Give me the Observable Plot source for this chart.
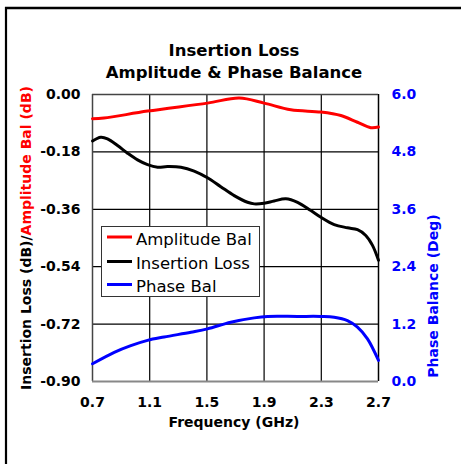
<!DOCTYPE html>
<html>
<head>
<meta charset="utf-8">
<script src="https://cdn.jsdelivr.net/npm/d3@7"></script>
<script src="https://cdn.jsdelivr.net/npm/@observablehq/plot@0.6"></script>
<style>
  html, body { margin: 0; padding: 0; background: #fff; }
  #chart { width: 461px; height: 464px; overflow: hidden; }
</style>
</head>
<body>
<div id="chart"></div>
<script>
// ---- data ----
const ampFreq = [0.70, 0.78, 1.085, 1.504, 1.726, 1.90, 2.087, 2.297, 2.437, 2.553, 2.646, 2.70];
const ampVal  = [-0.076, -0.074, -0.052, -0.027, -0.011, -0.027, -0.048, -0.055, -0.066, -0.087, -0.104, -0.102];

const ilFreq = [0.70, 0.758, 0.805, 0.875, 0.945, 1.015, 1.085, 1.155, 1.224, 1.318, 1.411, 1.504, 1.597, 1.691, 1.784, 1.831, 1.90, 1.970, 2.052, 2.134, 2.227, 2.297, 2.390, 2.483, 2.553, 2.611, 2.658, 2.70];
const ilVal  = [-0.146, -0.134, -0.139, -0.160, -0.184, -0.205, -0.220, -0.228, -0.226, -0.228, -0.240, -0.261, -0.289, -0.317, -0.338, -0.343, -0.341, -0.334, -0.327, -0.338, -0.364, -0.385, -0.408, -0.418, -0.424, -0.442, -0.473, -0.520];

const phFreq = [0.70, 0.852, 0.968, 1.085, 1.201, 1.388, 1.504, 1.667, 1.831, 1.924, 2.134, 2.297, 2.390, 2.483, 2.553, 2.623, 2.70];
const phVal  = [0.37, 0.61, 0.75, 0.86, 0.93, 1.03, 1.10, 1.24, 1.33, 1.36, 1.36, 1.36, 1.345, 1.275, 1.136, 0.892, 0.44];

const xTicks = [0.7, 1.1, 1.5, 1.9, 2.3, 2.7];
const yTicks = [0, -0.18, -0.36, -0.54, -0.72, -0.90];
const phaseTicks = [0.0, 1.2, 2.4, 3.6, 4.8, 6.0];

const seriesNames = ["Amplitude Bal", "Insertion Loss", "Phase Bal"];
const seriesColors = ["#ff0000", "#000000", "#0000ff"];

// phase (deg, right axis 0..6) mapped onto left dB axis (-0.9..0)
const degToDb = d => -0.9 + d * 0.15;
const dbToDeg = v => (v + 0.9) / 0.15;

const amp = ampFreq.map((f, i) => ({f, v: ampVal[i]}));
const il = ilFreq.map((f, i) => ({f, v: ilVal[i]}));
const ph = phFreq.map((f, i) => ({f, v: degToDb(phVal[i])}));

const FONT = "DejaVu Sans, Verdana, sans-serif";
const BLUE = "#0000ff";

const svg = Plot.plot({
  width: 461,
  height: 464,
  marginLeft: 92,
  marginRight: 83,
  marginTop: 94,
  marginBottom: 83,
  style: {background: "#fff", fontFamily: FONT, overflow: "visible"},
  x: {domain: [0.7, 2.7]},
  y: {domain: [-0.9, 0]},
  marks: [
    Plot.ruleX(xTicks.slice(1, -1), {stroke: "#000", strokeWidth: 1.2}),
    Plot.ruleY(yTicks.slice(1, -1), {stroke: "#000", strokeWidth: 1.2}),
    Plot.ruleX([xTicks[xTicks.length - 1]], {stroke: "#000", strokeWidth: 1.5}),
    Plot.ruleX([xTicks[0]], {stroke: "#444", strokeWidth: 1.5}),
    Plot.ruleY([yTicks[0]], {stroke: "#444", strokeWidth: 1.5}),
    Plot.ruleY([yTicks[yTicks.length - 1]], {stroke: "#888", strokeWidth: 2}),
    Plot.axisX(xTicks, {tickSize: 0, tickPadding: 16, tickFormat: d => d.toFixed(1), fontSize: 14, fontWeight: "bold", fill: "#000", label: null}),
    Plot.axisY(yTicks, {anchor: "left", tickSize: 0, tickPadding: 12, tickFormat: d => d.toFixed(2), fontSize: 14, fontWeight: "bold", fill: "#000", label: null}),
    Plot.axisY(phaseTicks.map(degToDb), {anchor: "right", tickSize: 0, tickPadding: 13, tickFormat: d => dbToDeg(d).toFixed(1), fontSize: 14, fontWeight: "bold", fill: BLUE, color: BLUE, label: null}),
    Plot.line(amp, {x: "f", y: "v", stroke: seriesColors[0], strokeWidth: 3, curve: "catmull-rom"}),
    Plot.line(il, {x: "f", y: "v", stroke: seriesColors[1], strokeWidth: 3, curve: "catmull-rom"}),
    Plot.line(ph, {x: "f", y: "v", stroke: seriesColors[2], strokeWidth: 3, curve: "catmull-rom"})
  ]
});

document.getElementById("chart").appendChild(svg);
const s = d3.select(svg);

// outer frame (left and top borders)
s.append("line").attr("x1", 6).attr("x2", 6).attr("y1", 7).attr("y2", 464).attr("stroke", "#000").attr("stroke-width", 2.2);
s.append("line").attr("x1", 5).attr("x2", 461).attr("y1", 8).attr("y2", 8).attr("stroke", "#000").attr("stroke-width", 2.5);

// title
s.append("text").attr("x", 234).attr("y", 56).attr("text-anchor", "middle")
  .attr("font-family", FONT).attr("font-size", 16.5).attr("font-weight", "bold").attr("fill", "#000")
  .text("Insertion Loss");
s.append("text").attr("x", 234).attr("y", 78).attr("text-anchor", "middle")
  .attr("font-family", FONT).attr("font-size", 16.5).attr("font-weight", "bold").attr("fill", "#000")
  .text("Amplitude & Phase Balance");

// x label
s.append("text").attr("x", 234).attr("y", 427).attr("text-anchor", "middle")
  .attr("font-family", FONT).attr("font-size", 14).attr("font-weight", "bold").attr("fill", "#000")
  .text("Frequency (GHz)");

// left label (two colours)
const ll = s.append("text").attr("transform", "translate(30.5,238) rotate(-90)").attr("text-anchor", "middle")
  .attr("font-family", FONT).attr("font-size", 14).attr("font-weight", "bold");
ll.append("tspan").attr("fill", "#000").text("Insertion Loss (dB)/");
ll.append("tspan").attr("fill", "#ff0000").text("Amplitude Bal (dB)");

// right label
s.append("text").attr("transform", "translate(438,296) rotate(-90)").attr("text-anchor", "middle")
  .attr("font-family", FONT).attr("font-size", 14).attr("font-weight", "bold").attr("fill", BLUE)
  .text("Phase Balance (Deg)");

// legend
const lg = s.append("g");
lg.append("rect").attr("x", 101.5).attr("y", 226.5).attr("width", 158).attr("height", 70)
  .attr("fill", "#fff").attr("stroke", "#333").attr("stroke-width", 1);
const rowY = [237, 261.5, 284.5];
seriesNames.forEach((name, i) => {
  lg.append("line").attr("x1", 107).attr("x2", 132).attr("y1", rowY[i]).attr("y2", rowY[i])
    .attr("stroke", seriesColors[i]).attr("stroke-width", 3);
  lg.append("text").attr("x", 136).attr("y", rowY[i] + 7.5).attr("text-anchor", "start")
    .attr("font-family", FONT).attr("font-size", 16.5).attr("fill", "#000").text(name);
});
</script>
</body>
</html>
